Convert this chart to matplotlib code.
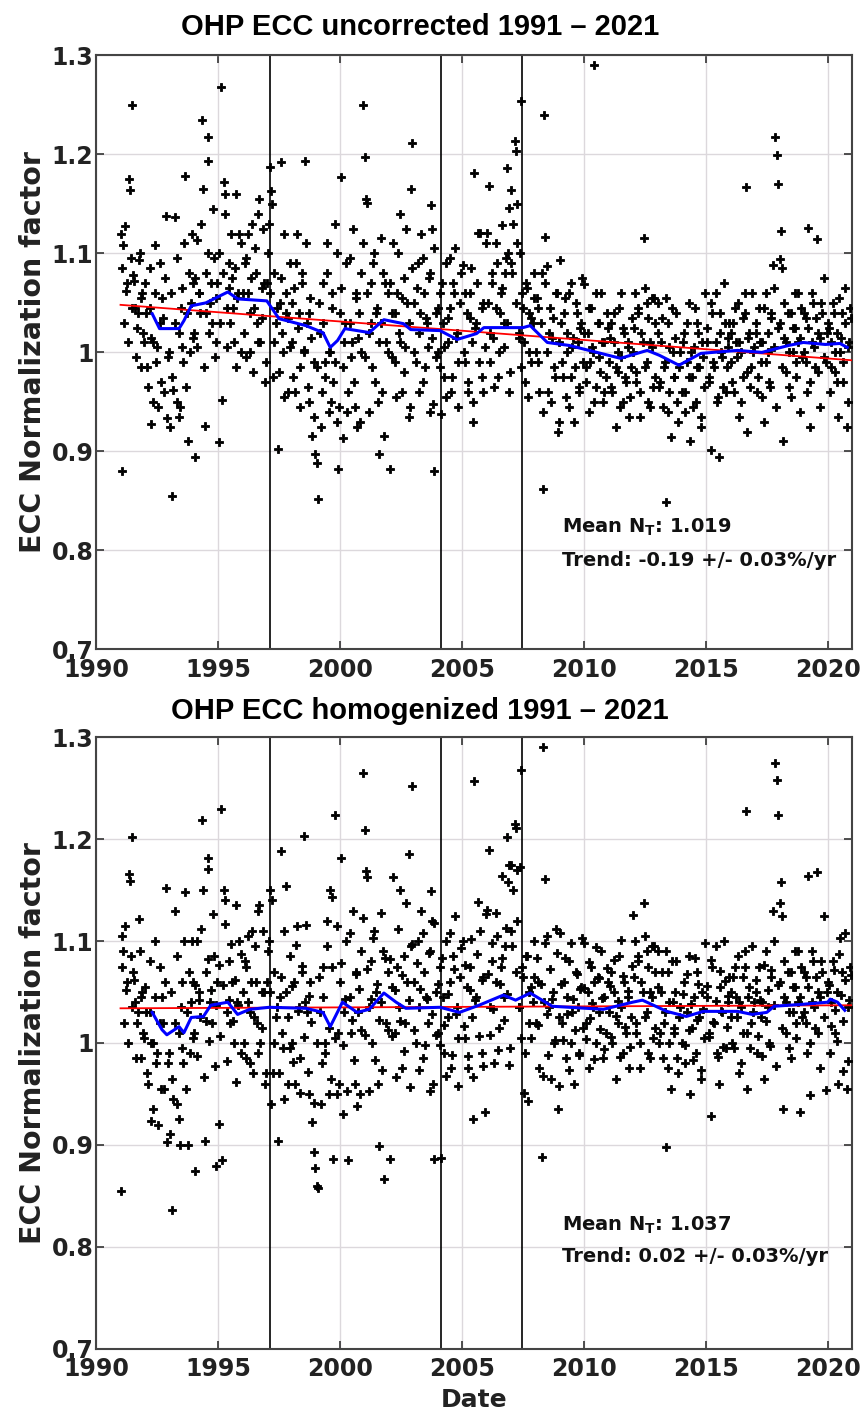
# -*- coding: utf-8 -*-

import numpy
import matplotlib
matplotlib.use('Agg')
import matplotlib.pyplot as plt

# sounding dates (decimal years), shared by both panels
dates = [
    1991.01, 1991.07, 1991.12, 1991.18, 1991.26, 1991.33, 1991.37, 1991.46, 1991.52, 1991.60, 1991.68, 1991.75, 1991.83, 1991.90, 1991.96,
    1992.04, 1992.11, 1992.19, 1992.25, 1992.32, 1992.40, 1992.47, 1992.55, 1992.62, 1992.70, 1992.78, 1992.85, 1992.91, 1992.97,
    1993.03, 1993.10, 1993.17, 1993.23, 1993.30, 1993.38, 1993.44, 1993.51, 1993.58, 1993.65, 1993.71, 1993.78, 1993.86, 1993.93, 1993.98,
    1994.02, 1994.06, 1994.13, 1994.20, 1994.26, 1994.33, 1994.38, 1994.45, 1994.50, 1994.58, 1994.60, 1994.67, 1994.75, 1994.82, 1994.90, 1994.96,
    1995.03, 1995.11, 1995.18, 1995.25, 1995.29, 1995.36, 1995.43, 1995.50, 1995.57, 1995.64, 1995.72, 1995.79, 1995.86, 1995.93,
    1996.02, 1996.09, 1996.16, 1996.23, 1996.30, 1996.37, 1996.44, 1996.51, 1996.58, 1996.65, 1996.72, 1996.79, 1996.86, 1996.93,
    1997.01, 1997.08, 1997.13, 1997.17, 1997.24, 1997.31, 1997.38, 1997.45, 1997.52, 1997.58, 1997.65, 1997.72, 1997.80, 1997.87, 1997.94,
    1998.03, 1998.10, 1998.17, 1998.24, 1998.31, 1998.38, 1998.45, 1998.52, 1998.57, 1998.64, 1998.71, 1998.78, 1998.85, 1998.92, 1998.98,
    1999.05, 1999.10, 1999.18, 1999.25, 1999.32, 1999.39, 1999.46, 1999.53, 1999.60, 1999.67, 1999.73, 1999.80, 1999.87, 1999.93,
    2000.01, 2000.04, 2000.11, 2000.18, 2000.25, 2000.32, 2000.39, 2000.46, 2000.53, 2000.60, 2000.67, 2000.74, 2000.81, 2000.88, 2000.95,
    2001.02, 2001.05, 2001.12, 2001.19, 2001.26, 2001.33, 2001.40, 2001.47, 2001.54, 2001.61, 2001.68, 2001.75, 2001.82, 2001.89, 2001.96,
    2002.05, 2002.12, 2002.19, 2002.26, 2002.33, 2002.40, 2002.47, 2002.54, 2002.61, 2002.68, 2002.75, 2002.83, 2002.90, 2002.97,
    2003.04, 2003.11, 2003.18, 2003.25, 2003.32, 2003.39, 2003.46, 2003.53, 2003.60, 2003.67, 2003.73, 2003.76, 2003.80, 2003.85, 2003.92,
    2004.01, 2004.08, 2004.14, 2004.21, 2004.28, 2004.35, 2004.42, 2004.49, 2004.56, 2004.63, 2004.71, 2004.78, 2004.85, 2004.92,
    2005.05, 2005.12, 2005.19, 2005.26, 2005.33, 2005.40, 2005.45, 2005.50, 2005.57, 2005.66, 2005.74, 2005.81, 2005.88, 2005.95,
    2006.03, 2006.10, 2006.17, 2006.24, 2006.31, 2006.38, 2006.45, 2006.52, 2006.59, 2006.64, 2006.71, 2006.78, 2006.83, 2006.90, 2006.93, 2006.98,
    2007.00, 2007.07, 2007.16, 2007.20, 2007.27, 2007.34, 2007.40, 2007.42, 2007.48, 2007.55, 2007.62, 2007.69, 2007.76, 2007.83, 2007.90, 2007.97,
    2008.03, 2008.10, 2008.17, 2008.27, 2008.33, 2008.36, 2008.42, 2008.50, 2008.58, 2008.65, 2008.72, 2008.79, 2008.86, 2008.93, 2008.98,
    2009.04, 2009.11, 2009.18, 2009.25, 2009.32, 2009.39, 2009.46, 2009.53, 2009.60, 2009.67, 2009.74, 2009.81, 2009.88, 2009.95,
    2010.02, 2010.09, 2010.16, 2010.23, 2010.30, 2010.37, 2010.42, 2010.49, 2010.56, 2010.63, 2010.70, 2010.77, 2010.84, 2010.91, 2010.97,
    2011.03, 2011.10, 2011.17, 2011.24, 2011.31, 2011.38, 2011.45, 2011.52, 2011.59, 2011.66, 2011.73, 2011.80, 2011.87, 2011.94,
    2012.01, 2012.08, 2012.15, 2012.22, 2012.29, 2012.36, 2012.46, 2012.50, 2012.57, 2012.64, 2012.71, 2012.78, 2012.85, 2012.92,
    2013.04, 2013.11, 2013.18, 2013.25, 2013.32, 2013.36, 2013.43, 2013.50, 2013.57, 2013.64, 2013.71, 2013.78, 2013.85, 2013.92,
    2014.02, 2014.09, 2014.16, 2014.23, 2014.30, 2014.37, 2014.44, 2014.51, 2014.58, 2014.65, 2014.72, 2014.79, 2014.86, 2014.93,
    2015.05, 2015.12, 2015.20, 2015.26, 2015.33, 2015.40, 2015.47, 2015.54, 2015.60, 2015.68, 2015.75, 2015.82, 2015.89, 2015.96,
    2016.03, 2016.10, 2016.17, 2016.24, 2016.31, 2016.38, 2016.45, 2016.52, 2016.59, 2016.63, 2016.70, 2016.77, 2016.84, 2016.91, 2016.97,
    2017.04, 2017.11, 2017.18, 2017.25, 2017.32, 2017.39, 2017.46, 2017.53, 2017.60, 2017.67, 2017.74, 2017.80, 2017.83, 2017.90, 2017.97,
    2018.05, 2018.08, 2018.12, 2018.15, 2018.22, 2018.29, 2018.36, 2018.43, 2018.50, 2018.57, 2018.64, 2018.71, 2018.78, 2018.85, 2018.92,
    2019.02, 2019.09, 2019.16, 2019.20, 2019.27, 2019.34, 2019.41, 2019.48, 2019.55, 2019.62, 2019.69, 2019.76, 2019.85, 2019.92,
    2020.01, 2020.08, 2020.15, 2020.22, 2020.29, 2020.36, 2020.43, 2020.50, 2020.57, 2020.64, 2020.71, 2020.78, 2020.85, 2020.92,
]

# ECC normalization factor, uncorrected
ecc_raw = [
    1.120, 0.880, 1.108, 1.128, 1.070, 1.175, 1.164, 1.250, 1.078, 1.045, 1.025, 1.093, 0.985, 1.060, 1.010,
    1.040, 0.965, 1.085, 0.928, 1.010, 1.108, 0.990, 0.945, 1.030, 1.055, 0.960, 1.138, 0.934, 1.000,
    0.925, 0.855, 0.962, 1.137, 0.950, 1.020, 0.945, 1.065, 0.990, 1.178, 1.040, 0.910, 1.000, 1.120, 1.070,
    1.020, 0.894, 1.113, 1.060, 1.040, 1.235, 1.165, 0.926, 1.080, 1.217, 1.193, 1.050, 1.030, 1.095, 1.010, 1.070,
    0.909, 1.268, 0.952, 1.172, 1.160, 1.045, 1.090, 1.030, 1.075, 1.010, 1.160, 1.055, 1.120, 1.000,
    1.060, 1.090, 0.995, 1.120, 1.040, 1.075, 0.980, 1.105, 1.030, 1.140, 1.010, 1.065, 1.125, 0.970,
    1.070, 1.130, 1.187, 1.163, 0.975, 1.080, 1.030, 0.902, 1.050, 1.192, 1.000, 1.120, 1.040, 0.960, 1.090,
    1.010, 1.065, 0.960, 1.120, 1.040, 0.985, 1.080, 1.002, 1.193, 1.030, 0.950, 1.055, 0.916, 0.990, 0.897,
    0.888, 0.852, 1.020, 0.960, 1.070, 0.990, 1.110, 0.940, 1.000, 1.045, 0.970, 1.130, 0.930, 0.882,
    1.040, 1.177, 0.914, 1.010, 1.090, 0.960, 1.030, 0.995, 1.125, 0.945, 1.060, 1.015, 0.930, 1.080, 1.250,
    1.197, 1.155, 1.151, 1.020, 1.070, 0.985, 1.100, 1.040, 0.950, 0.897, 1.030, 1.080, 0.916, 1.010, 1.060,
    0.882, 1.040, 1.110, 0.990, 1.060, 1.020, 1.140, 0.960, 1.075, 1.005, 1.050, 0.935, 1.165, 1.211,
    1.050, 0.990, 1.090, 1.020, 1.120, 0.970, 1.060, 1.035, 1.005, 1.080, 1.149, 1.125, 0.948, 0.880, 1.040,
    1.000, 1.060, 0.938, 1.030, 0.975, 1.090, 1.010, 1.045, 0.960, 1.070, 1.105, 1.020, 0.990, 1.050,
    1.088, 0.990, 1.040, 0.960, 1.060, 1.010, 0.930, 1.181, 1.030, 1.121, 1.121, 0.975, 1.050, 1.005,
    1.121, 1.168, 1.020, 1.070, 0.965, 1.045, 1.090, 1.000, 1.060, 1.129, 1.030, 1.080, 1.186, 1.100, 1.146, 0.980,
    1.164, 1.080, 1.213, 1.203, 1.110, 1.020, 1.100, 1.254, 1.060, 1.010, 1.070, 0.955, 1.040, 0.990, 1.030, 1.055,
    1.000, 1.045, 0.960, 1.080, 0.862, 1.240, 1.117, 1.087, 1.020, 0.950, 1.035, 0.985, 1.060, 0.920, 1.010,
    1.093, 0.990, 1.040, 0.955, 1.020, 1.060, 0.975, 1.005, 0.930, 1.050, 1.010, 0.965, 1.030, 0.990,
    1.069, 0.985, 1.020, 0.940, 1.045, 1.000, 1.290, 0.965, 1.030, 0.995, 1.060, 0.950, 1.010, 0.975, 1.025,
    0.990, 1.030, 0.960, 1.010, 0.925, 0.980, 1.045, 0.995, 0.950, 1.020, 0.970, 1.005, 0.935, 0.985,
    1.000, 1.060, 0.970, 1.040, 0.935, 1.020, 1.115, 0.985, 1.050, 0.950, 1.010, 1.055, 0.965, 1.030,
    1.050, 0.970, 1.010, 0.945, 0.990, 0.849, 1.030, 0.960, 0.915, 1.000, 0.975, 1.040, 0.930, 0.985,
    0.960, 1.020, 0.940, 0.990, 1.050, 0.910, 0.975, 1.005, 0.950, 1.030, 0.985, 0.925, 1.010, 0.965,
    1.010, 0.970, 0.901, 1.040, 0.985, 1.060, 0.950, 0.894, 1.020, 0.995, 1.070, 0.960, 1.005, 1.030,
    0.990, 1.030, 0.960, 1.010, 1.050, 0.935, 1.000, 0.975, 1.040, 1.167, 0.920, 1.020, 0.985, 1.060, 1.005,
    1.020, 0.960, 1.045, 0.990, 1.010, 0.930, 1.060, 1.000, 0.970, 1.035, 1.088, 1.065, 1.218, 1.199, 1.170,
    1.094, 1.123, 1.085, 0.910, 1.015, 0.980, 1.040, 1.000, 0.955, 1.025, 1.060, 0.990, 1.010, 0.940, 1.045,
    1.000, 1.035, 0.960, 1.126, 0.925, 1.010, 1.050, 0.985, 1.114, 1.020, 0.945, 1.040, 1.075, 0.990,
    1.030, 0.960, 1.010, 1.050, 0.980, 1.020, 0.935, 1.000, 1.040, 0.970, 1.065, 0.925, 1.005, 1.045,
]

# ECC normalization factor, homogenized
ecc_hom = [
    0.855, 1.105, 1.090, 1.115, 1.060, 1.166, 1.159, 1.202, 1.070, 1.040, 1.020, 1.122, 0.985, 1.050, 1.005,
    1.030, 0.960, 1.080, 0.923, 1.000, 1.100, 0.980, 0.919, 1.020, 1.045, 0.955, 1.152, 0.903, 0.990,
    0.911, 0.836, 0.945, 1.130, 0.940, 1.010, 0.900, 1.060, 0.980, 1.148, 1.030, 0.900, 0.990, 1.100, 1.060,
    1.010, 0.874, 1.100, 1.050, 1.025, 1.219, 1.150, 0.904, 1.070, 1.182, 1.171, 1.040, 1.020, 1.085, 0.879, 1.060,
    0.920, 1.230, 0.885, 1.150, 1.140, 1.030, 1.080, 1.020, 1.060, 1.000, 1.135, 1.040, 1.100, 0.990,
    1.050, 1.080, 0.985, 1.105, 1.030, 1.060, 0.970, 1.095, 1.020, 1.130, 1.000, 1.050, 1.110, 0.960,
    1.060, 1.100, 1.150, 0.940, 0.970, 1.070, 1.025, 0.904, 1.045, 1.188, 0.995, 1.110, 1.154, 0.960, 1.085,
    1.000, 1.060, 0.960, 1.115, 1.035, 0.985, 1.070, 1.203, 1.040, 1.030, 0.950, 1.060, 0.922, 0.893, 0.877,
    0.860, 0.858, 1.030, 0.980, 1.075, 1.000, 1.120, 0.950, 1.150, 1.143, 0.886, 1.224, 0.950, 1.010,
    1.060, 1.182, 0.930, 1.030, 1.100, 0.885, 1.045, 1.010, 1.130, 0.960, 1.070, 1.030, 0.950, 1.090, 1.265,
    1.209, 1.169, 1.163, 1.035, 1.080, 1.000, 1.110, 1.050, 0.960, 0.899, 1.040, 1.090, 0.866, 1.020, 1.070,
    0.886, 1.055, 1.163, 1.010, 1.075, 1.035, 1.150, 0.975, 1.085, 1.020, 1.060, 1.185, 1.095, 1.252,
    1.060, 1.000, 1.100, 1.035, 1.130, 0.985, 1.070, 1.045, 1.020, 1.090, 1.149, 1.120, 0.960, 0.886, 1.050,
    1.010, 1.075, 0.887, 1.045, 0.990, 1.100, 1.025, 1.060, 0.975, 1.085, 1.125, 1.035, 1.005, 1.065,
    1.100, 1.005, 1.055, 0.975, 1.075, 1.025, 0.925, 1.257, 1.045, 1.138, 1.110, 0.990, 1.065, 0.932,
    1.131, 1.189, 1.035, 1.080, 0.980, 1.060, 1.105, 1.015, 1.075, 1.164, 1.045, 1.095, 1.202, 1.158, 1.175, 0.995,
    1.175, 1.095, 1.215, 1.211, 1.120, 1.035, 1.173, 1.268, 1.075, 0.951, 1.085, 0.943, 1.050, 1.005, 1.040, 1.065,
    1.020, 1.060, 0.975, 0.888, 1.291, 1.040, 1.161, 1.105, 1.035, 0.965, 1.050, 1.000, 1.112, 0.935, 1.025,
    1.108, 1.020, 1.060, 0.985, 1.045, 1.080, 1.000, 1.030, 0.960, 1.070, 1.035, 0.990, 1.055, 1.015,
    1.098, 1.020, 1.050, 0.975, 1.075, 1.035, 1.060, 1.000, 1.065, 1.030, 1.090, 0.985, 1.045, 1.010, 1.060,
    1.030, 1.070, 1.000, 1.050, 0.965, 1.020, 1.085, 1.035, 0.990, 1.060, 1.010, 1.045, 0.975, 1.025,
    1.126, 1.100, 1.010, 1.080, 0.975, 1.060, 1.137, 1.025, 1.090, 0.990, 1.050, 1.095, 1.005, 1.070,
    1.090, 1.010, 1.050, 0.985, 1.030, 0.898, 1.070, 1.000, 0.955, 1.040, 1.015, 1.080, 0.970, 1.025,
    1.000, 1.060, 0.980, 1.030, 1.085, 0.950, 1.015, 1.045, 0.990, 1.070, 1.025, 0.965, 1.050, 1.005,
    1.045, 1.010, 0.928, 1.075, 1.020, 1.095, 0.990, 0.960, 1.055, 1.030, 1.100, 0.995, 1.040, 1.065,
    1.025, 1.065, 0.995, 1.045, 1.085, 0.970, 1.035, 1.010, 1.075, 1.228, 0.955, 1.055, 1.020, 1.095, 1.040,
    1.050, 0.990, 1.075, 1.025, 1.040, 0.965, 1.090, 1.035, 1.000, 1.065, 1.130, 1.100, 1.275, 1.258, 1.224,
    1.137, 1.158, 1.125, 0.935, 1.045, 1.010, 1.070, 1.030, 0.985, 1.055, 1.090, 1.020, 1.040, 0.932, 1.075,
    1.030, 1.065, 0.990, 1.164, 0.949, 1.040, 1.080, 1.015, 1.168, 1.050, 0.975, 1.070, 1.125, 0.954,
    1.060, 0.990, 1.040, 1.080, 1.010, 1.050, 0.960, 1.103, 1.070, 0.972, 1.108, 0.955, 1.035, 1.075,
]

# further soundings, closer to the running mean
dates2 = [
    1991.05, 1991.14, 1991.22, 1991.29, 1991.41, 1991.49, 1991.57, 1991.64, 1991.71, 1991.79, 1991.86, 1991.93,
    1992.02, 1992.09, 1992.20, 1992.27, 1992.35, 1992.43, 1992.51, 1992.60, 1992.68, 1992.74, 1992.83, 1992.95,
    1993.07, 1993.13, 1993.24, 1993.31, 1993.39, 1993.47, 1993.54, 1993.62, 1993.69, 1993.81, 1993.88, 1993.97,
    1994.05, 1994.14, 1994.22, 1994.29, 1994.41, 1994.49, 1994.57, 1994.64, 1994.71, 1994.79, 1994.86, 1994.93,
    1995.02, 1995.09, 1995.20, 1995.27, 1995.35, 1995.43, 1995.51, 1995.60, 1995.68, 1995.74, 1995.83, 1995.95,
    1996.07, 1996.13, 1996.24, 1996.31, 1996.39, 1996.47, 1996.54, 1996.62, 1996.69, 1996.81, 1996.88, 1996.97,
    1997.05, 1997.14, 1997.22, 1997.29, 1997.41, 1997.49, 1997.57, 1997.64, 1997.71, 1997.79, 1997.86, 1997.93,
    1998.02, 1998.09, 1998.20, 1998.27, 1998.35, 1998.43, 1998.51, 1998.60, 1998.68, 1998.74, 1998.83, 1998.95,
    1999.07, 1999.13, 1999.24, 1999.31, 1999.39, 1999.47, 1999.54, 1999.62, 1999.69, 1999.81, 1999.88, 1999.97,
    2000.05, 2000.14, 2000.22, 2000.29, 2000.41, 2000.49, 2000.57, 2000.64, 2000.71, 2000.79, 2000.86, 2000.93,
    2001.02, 2001.09, 2001.20, 2001.27, 2001.35, 2001.43, 2001.51, 2001.60, 2001.68, 2001.74, 2001.83, 2001.95,
    2002.07, 2002.13, 2002.24, 2002.31, 2002.39, 2002.47, 2002.54, 2002.62, 2002.69, 2002.81, 2002.88, 2002.97,
    2003.05, 2003.14, 2003.22, 2003.29, 2003.41, 2003.49, 2003.57, 2003.64, 2003.71, 2003.79, 2003.86, 2003.93,
    2004.02, 2004.09, 2004.20, 2004.27, 2004.35, 2004.43, 2004.51, 2004.60, 2004.68, 2004.74, 2004.83, 2004.95,
    2005.07, 2005.13, 2005.24, 2005.31, 2005.39, 2005.47, 2005.54, 2005.62, 2005.69, 2005.81, 2005.88, 2005.97,
    2006.05, 2006.14, 2006.22, 2006.29, 2006.41, 2006.49, 2006.57, 2006.64, 2006.71, 2006.79, 2006.86, 2006.93,
    2007.02, 2007.09, 2007.20, 2007.27, 2007.35, 2007.43, 2007.51, 2007.60, 2007.68, 2007.74, 2007.83, 2007.95,
    2008.07, 2008.13, 2008.24, 2008.31, 2008.39, 2008.47, 2008.54, 2008.62, 2008.69, 2008.81, 2008.88, 2008.97,
    2009.05, 2009.14, 2009.22, 2009.29, 2009.41, 2009.49, 2009.57, 2009.64, 2009.71, 2009.79, 2009.86, 2009.93,
    2010.02, 2010.09, 2010.20, 2010.27, 2010.35, 2010.43, 2010.51, 2010.60, 2010.68, 2010.74, 2010.83, 2010.95,
    2011.07, 2011.13, 2011.24, 2011.31, 2011.39, 2011.47, 2011.54, 2011.62, 2011.69, 2011.81, 2011.88, 2011.97,
    2012.05, 2012.14, 2012.22, 2012.29, 2012.41, 2012.49, 2012.57, 2012.64, 2012.71, 2012.79, 2012.86, 2012.93,
    2013.02, 2013.09, 2013.20, 2013.27, 2013.35, 2013.43, 2013.51, 2013.60, 2013.68, 2013.74, 2013.83, 2013.95,
    2014.07, 2014.13, 2014.24, 2014.31, 2014.39, 2014.47, 2014.54, 2014.62, 2014.69, 2014.81, 2014.88, 2014.97,
    2015.05, 2015.14, 2015.22, 2015.29, 2015.41, 2015.49, 2015.57, 2015.64, 2015.71, 2015.79, 2015.86, 2015.93,
    2016.02, 2016.09, 2016.20, 2016.27, 2016.35, 2016.43, 2016.51, 2016.60, 2016.68, 2016.74, 2016.83, 2016.95,
    2017.07, 2017.13, 2017.24, 2017.31, 2017.39, 2017.47, 2017.54, 2017.62, 2017.69, 2017.81, 2017.88, 2017.97,
    2018.05, 2018.14, 2018.22, 2018.29, 2018.41, 2018.49, 2018.57, 2018.64, 2018.71, 2018.79, 2018.86, 2018.93,
    2019.02, 2019.09, 2019.20, 2019.27, 2019.35, 2019.43, 2019.51, 2019.60, 2019.68, 2019.74, 2019.83, 2019.95,
    2020.07, 2020.13, 2020.24, 2020.31, 2020.39, 2020.47, 2020.54, 2020.62, 2020.69, 2020.81, 2020.88, 2020.95,
]

ecc_raw2 = [
    1.085, 1.030, 1.062, 1.010, 1.095, 1.045, 1.072, 0.995, 1.040, 1.100, 1.055, 1.020,
    1.070, 0.985, 1.045, 1.015, 0.950, 1.060, 1.005, 1.090, 0.970, 1.035, 1.075, 0.995,
    1.060, 0.975, 1.030, 1.095, 0.935, 1.045, 1.005, 1.110, 0.965, 1.080, 1.050, 1.015,
    1.075, 1.005, 1.060, 1.130, 0.985, 1.040, 1.100, 1.020, 1.070, 1.145, 0.995, 1.055,
    1.100, 1.030, 1.080, 1.140, 1.005, 1.065, 1.120, 1.045, 1.085, 0.985, 1.060, 1.110,
    1.020, 1.095, 1.060, 1.000, 1.130, 1.045, 1.080, 1.010, 1.155, 1.035, 1.070, 0.990,
    1.100, 1.060, 1.150, 1.010, 1.045, 0.980, 1.075, 1.020, 0.955, 1.060, 1.035, 1.005,
    1.050, 0.975, 1.090, 1.025, 0.945, 1.070, 1.000, 1.110, 0.965, 1.040, 1.015, 0.935,
    0.985, 1.050, 0.925, 1.030, 0.975, 1.080, 1.000, 0.950, 1.060, 0.990, 1.100, 0.945,
    1.065, 0.985, 1.030, 0.940, 1.095, 1.010, 0.970, 1.055, 0.925, 1.040, 1.000, 1.110,
    0.995, 1.060, 0.940, 1.030, 1.090, 0.970, 1.045, 1.010, 1.115, 0.960, 1.070, 1.000,
    1.070, 0.995, 1.040, 0.955, 1.100, 1.010, 1.055, 0.980, 1.125, 1.030, 0.945, 1.085,
    1.000, 1.065, 0.960, 1.040, 1.095, 0.985, 1.030, 1.075, 0.940, 1.015, 1.105, 0.995,
    1.045, 0.985, 1.070, 1.005, 0.955, 1.035, 1.095, 0.975, 1.060, 1.015, 0.945, 1.080,
    1.000, 1.060, 0.970, 1.035, 1.085, 0.950, 1.025, 1.070, 0.990, 1.045, 0.960, 1.110,
    1.050, 0.990, 1.080, 1.015, 1.110, 0.975, 1.040, 1.065, 1.005, 1.095, 1.030, 0.960,
    1.090, 1.130, 1.050, 1.150, 1.015, 0.985, 1.045, 0.970, 1.065, 1.000, 1.035, 1.080,
    1.055, 0.990, 1.030, 0.940, 1.070, 1.000, 0.960, 1.045, 1.015, 0.975, 1.060, 0.930,
    1.030, 0.975, 1.055, 1.000, 0.945, 1.070, 1.015, 0.985, 1.040, 0.960, 1.025, 1.075,
    1.020, 0.970, 1.045, 0.990, 1.005, 0.950, 1.060, 1.030, 0.980, 1.010, 0.960, 1.040,
    1.015, 0.965, 1.040, 0.985, 1.000, 0.945, 1.060, 1.025, 0.975, 1.010, 0.955, 1.035,
    1.025, 0.980, 1.045, 0.960, 1.010, 1.065, 0.990, 1.035, 0.945, 1.005, 1.055, 0.975,
    1.020, 0.965, 1.035, 0.985, 1.055, 0.940, 1.005, 1.045, 0.975, 1.015, 0.950, 1.000,
    1.010, 0.960, 1.030, 0.975, 1.000, 0.945, 1.045, 0.985, 1.020, 0.935, 0.995, 1.060,
    1.025, 0.975, 1.050, 0.990, 1.010, 0.955, 1.040, 1.000, 0.965, 1.030, 0.985, 1.015,
    1.020, 0.970, 1.045, 0.995, 1.010, 0.950, 1.035, 1.060, 0.980, 1.015, 0.965, 1.000,
    1.030, 0.975, 1.010, 0.955, 1.045, 0.990, 1.020, 0.965, 1.040, 1.005, 0.945, 1.025,
    1.030, 0.985, 1.050, 1.010, 0.965, 1.040, 1.000, 1.025, 0.975, 1.060, 1.015, 0.995,
    1.040, 0.990, 1.025, 0.970, 1.060, 1.005, 1.035, 0.980, 1.015, 1.050, 0.995, 1.020,
    1.025, 0.985, 1.040, 1.000, 0.970, 1.055, 1.015, 0.990, 1.030, 0.950, 1.010, 1.035,
]

ecc_hom2 = [
    1.075, 1.020, 1.052, 1.000, 1.085, 1.035, 1.062, 0.985, 1.030, 1.090, 1.045, 1.010,
    1.055, 0.970, 1.030, 1.000, 0.935, 1.045, 0.990, 1.075, 0.955, 1.020, 1.060, 0.980,
    1.050, 0.965, 1.020, 1.085, 0.925, 1.035, 0.995, 1.100, 0.955, 1.070, 1.040, 1.005,
    1.057, 0.987, 1.042, 1.112, 0.967, 1.022, 1.082, 1.002, 1.052, 1.127, 0.977, 1.037,
    1.077, 1.007, 1.057, 1.117, 0.982, 1.042, 1.097, 1.022, 1.062, 0.962, 1.037, 1.087,
    1.000, 1.075, 1.040, 0.980, 1.110, 1.025, 1.060, 0.990, 1.135, 1.015, 1.050, 0.970,
    1.090, 1.050, 1.140, 1.000, 1.035, 0.970, 1.065, 1.010, 0.945, 1.050, 1.025, 0.995,
    1.056, 0.981, 1.096, 1.031, 0.951, 1.076, 1.006, 1.116, 0.971, 1.046, 1.021, 0.941,
    1.000, 1.065, 0.940, 1.045, 0.990, 1.095, 1.015, 0.965, 1.075, 1.005, 1.115, 0.960,
    1.078, 0.998, 1.043, 0.953, 1.108, 1.023, 0.983, 1.068, 0.938, 1.053, 1.013, 1.123,
    1.008, 1.073, 0.953, 1.043, 1.103, 0.983, 1.058, 1.023, 1.128, 0.973, 1.083, 1.013,
    1.082, 1.007, 1.052, 0.967, 1.112, 1.022, 1.067, 0.992, 1.137, 1.042, 0.957, 1.097,
    1.013, 1.078, 0.973, 1.053, 1.108, 0.998, 1.043, 1.088, 0.953, 1.028, 1.118, 1.008,
    1.058, 0.998, 1.083, 1.018, 0.968, 1.048, 1.108, 0.988, 1.073, 1.028, 0.958, 1.093,
    1.017, 1.077, 0.987, 1.052, 1.102, 0.967, 1.042, 1.087, 1.007, 1.062, 0.977, 1.127,
    1.068, 1.008, 1.098, 1.033, 1.128, 0.993, 1.058, 1.083, 1.023, 1.113, 1.048, 0.978,
    1.110, 1.150, 1.070, 1.170, 1.035, 1.005, 1.065, 0.990, 1.085, 1.020, 1.055, 1.100,
    1.083, 1.018, 1.058, 0.968, 1.098, 1.028, 0.988, 1.073, 1.043, 1.003, 1.088, 0.958,
    1.058, 1.003, 1.083, 1.028, 0.973, 1.098, 1.043, 1.013, 1.068, 0.988, 1.053, 1.103,
    1.054, 1.004, 1.079, 1.024, 1.039, 0.984, 1.094, 1.064, 1.014, 1.044, 0.994, 1.074,
    1.056, 1.006, 1.081, 1.026, 1.041, 0.986, 1.101, 1.066, 1.016, 1.051, 0.996, 1.076,
    1.065, 1.020, 1.085, 1.000, 1.050, 1.105, 1.030, 1.075, 0.985, 1.045, 1.095, 1.015,
    1.055, 1.000, 1.070, 1.020, 1.090, 0.975, 1.040, 1.080, 1.010, 1.050, 0.985, 1.035,
    1.048, 0.998, 1.068, 1.013, 1.038, 0.983, 1.083, 1.023, 1.058, 0.973, 1.033, 1.098,
    1.056, 1.006, 1.081, 1.021, 1.041, 0.986, 1.071, 1.031, 0.996, 1.061, 1.016, 1.046,
    1.050, 1.000, 1.075, 1.025, 1.040, 0.980, 1.065, 1.090, 1.010, 1.045, 0.995, 1.030,
    1.062, 1.007, 1.042, 0.987, 1.077, 1.022, 1.052, 0.997, 1.072, 1.037, 0.977, 1.057,
    1.060, 1.015, 1.080, 1.040, 0.995, 1.070, 1.030, 1.055, 1.005, 1.090, 1.045, 1.025,
    1.070, 1.020, 1.055, 1.000, 1.090, 1.035, 1.065, 1.010, 1.045, 1.080, 1.025, 1.050,
    1.057, 1.017, 1.072, 1.032, 1.002, 1.087, 1.047, 1.022, 1.062, 0.982, 1.042, 1.067,
]

# running mean (blue)
run_raw_t = [1992.3, 1992.6, 1993.4, 1993.6, 1993.9, 1994.5, 1995.4, 1995.8, 1997.0, 1997.5, 1998.6,
             1999.3, 1999.6, 1999.9, 2000.2, 2001.2, 2001.8, 2002.6, 2002.9, 2004.1, 2004.8, 2005.6,
             2005.9, 2007.5, 2007.8, 2008.5, 2009.4, 2011.5, 2012.6, 2013.1, 2013.9, 2014.8, 2016.3,
             2017.3, 2018.4, 2019.0, 2019.9, 2020.5, 2020.8]
run_raw_v = [1.039, 1.024, 1.024, 1.032, 1.047, 1.050, 1.061, 1.054, 1.052, 1.034, 1.027,
             1.020, 1.005, 1.012, 1.024, 1.020, 1.033, 1.029, 1.023, 1.022, 1.013, 1.019,
             1.025, 1.025, 1.027, 1.010, 1.007, 0.994, 1.002, 0.997, 0.987, 0.999, 1.002,
             1.000, 1.007, 1.010, 1.008, 1.009, 1.005]
run_hom_t = [1992.3, 1992.7, 1992.9, 1993.4, 1993.6, 1993.9, 1994.4, 1994.7, 1995.4, 1995.8, 1996.3,
             1997.1, 1998.6, 1999.3, 1999.6, 2000.1, 2000.7, 2001.2, 2001.8, 2002.3, 2002.7, 2004.1,
             2004.9, 2005.7, 2006.0, 2006.7, 2007.2, 2007.8, 2008.7, 2010.8, 2012.0, 2012.4, 2013.4,
             2014.2, 2014.9, 2016.3, 2016.9, 2017.5, 2017.8, 2019.0, 2020.0, 2020.1, 2020.4, 2020.7]
run_hom_v = [1.030, 1.013, 1.008, 1.016, 1.010, 1.025, 1.026, 1.037, 1.040, 1.028, 1.033,
             1.035, 1.034, 1.030, 1.016, 1.040, 1.030, 1.033, 1.049, 1.040, 1.034, 1.035,
             1.030, 1.037, 1.040, 1.047, 1.042, 1.049, 1.036, 1.033, 1.040, 1.042, 1.031,
             1.026, 1.031, 1.031, 1.028, 1.030, 1.036, 1.038, 1.040, 1.043, 1.040, 1.032]

# linear trend (red), end points
trend_t = [1991.0, 2021.0]
trend_raw = [1.048, 0.992]
trend_hom = [1.034, 1.037]

# instrument changes
breaks = [1997.15, 2004.15, 2007.47]

titles = ['OHP ECC uncorrected 1991 \u2013 2021', 'OHP ECC homogenized 1991 \u2013 2021']
notes = [('1.019', '-0.19 +/- 0.03%/yr'), ('1.037', '0.02 +/- 0.03%/yr')]

plt.rcParams['font.family'] = ['DejaVu Sans']
plt.rcParams['mathtext.fontset'] = 'dejavusans'

fig = plt.figure(figsize=(8.66, 14.18), dpi=100)
ax_top = fig.add_axes([0.111, 0.542, 0.873, 0.419])
ax_bot = fig.add_axes([0.111, 0.049, 0.873, 0.431])

panels = [(ax_top, ecc_raw, ecc_raw2, run_raw_t, run_raw_v, trend_raw, 0.197, 0.141),
          (ax_bot, ecc_hom, ecc_hom2, run_hom_t, run_hom_v, trend_hom, 0.193, 0.141)]

for i, (ax, vals, vals2, rt, rv, tr, y_mean, y_trend) in enumerate(panels):
    ax.grid(True, color='#dcd8dc', lw=1.0)
    ax.set_axisbelow(True)
    for b in breaks:
        ax.axvline(b, color='black', lw=1.2, zorder=2)
    for d, v in ((dates, vals), (dates2, vals2)):
        ax.plot(d, v, linestyle='none', marker='P', ms=5.2, color='black',
                markeredgecolor='black', markeredgewidth=0.6, zorder=3)
    ax.plot(trend_t, tr, color='red', lw=1.3, zorder=4)
    ax.plot(rt, rv, color='blue', lw=2.2, zorder=5)
    ax.set_xlim(1990, 2021)
    ax.set_ylim(0.7, 1.3)
    ax.set_xticks([1990, 1995, 2000, 2005, 2010, 2015, 2020])
    ax.set_yticks([0.7, 0.8, 0.9, 1.0, 1.1, 1.2, 1.3])
    ax.set_yticklabels(['0.7', '0.8', '0.9', '1', '1.1', '1.2', '1.3'])
    ax.tick_params(direction='in', length=6, width=1.2, top=True, right=True,
                   labelsize=17, colors='#333333', labelcolor='#222222', pad=2)
    ax.tick_params(axis='x', pad=6)
    for lab in ax.get_xticklabels() + ax.get_yticklabels():
        lab.set_fontweight('bold')
    for s in ax.spines.values():
        s.set_color('#444444')
        s.set_linewidth(1.5)
    ax.set_ylabel('ECC Normalization factor', fontsize=20.5, fontweight='bold',
                  color='#222222', labelpad=3)
    mean, trend = notes[i]
    ax.text(0.616, y_mean, r'Mean $\mathbf{N_T}$: ' + mean, transform=ax.transAxes,
            fontsize=14, fontweight='bold', color='#111111')
    ax.text(0.616, y_trend, 'Trend: ' + trend, transform=ax.transAxes,
            fontsize=14, fontweight='bold', color='#111111')

ax_bot.set_xlabel('Date', fontsize=18, fontweight='bold', color='#222222', labelpad=5)

fig.text(0.485, 0.981, titles[0], ha='center', va='center', fontsize=21,
         fontweight='bold', family=['Liberation Sans', 'DejaVu Sans'])
fig.text(0.485, 0.4986, titles[1], ha='center', va='center', fontsize=21,
         fontweight='bold', family=['Liberation Sans', 'DejaVu Sans'])

plt.savefig('out.png', dpi=100)
